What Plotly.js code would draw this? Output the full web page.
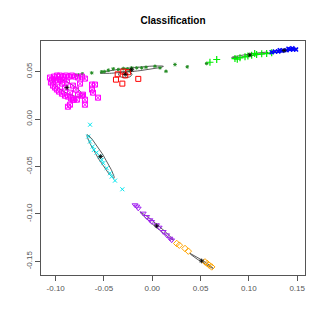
<!DOCTYPE html>
<html>
<head>
<meta charset="utf-8">
<script src="https://cdn.plot.ly/plotly-3.0.1.min.js"></script>
<style>
  html, body { margin: 0; padding: 0; background: white; }
  #chart { width: 327px; height: 327px; }
</style>
</head>
<body>
<div id="chart"></div>
<script>
// classes
const darkGreenX = [-0.0793, -0.0766, -0.0725, -0.0627, -0.0524, -0.0497, -0.0455, -0.0404, -0.0352, -0.0300, -0.0259, -0.0231, -0.0213, -0.0161, -0.0110, -0.0065, 0.0028, 0.0080, 0.0142, 0.0235, 0.0362, 0.0563];
const darkGreenY = [0.0461, 0.0465, 0.0476, 0.0486, 0.0497, 0.0500, 0.0514, 0.0529, 0.0521, 0.0532, 0.0529, 0.0514, 0.0539, 0.0539, 0.0539, 0.0546, 0.0556, 0.0539, 0.0503, 0.0574, 0.0550, 0.0585];

const limeX = [0.0597, 0.0667, 0.0856, 0.0880, 0.0908, 0.0960, 0.0990, 0.1029, 0.1060, 0.1080, 0.1133, 0.1184, 0.1236];
const limeY = [0.0598, 0.0627, 0.0637, 0.0630, 0.0645, 0.0655, 0.0665, 0.0672, 0.0690, 0.0680, 0.0687, 0.0690, 0.0698];

const blueX = [0.1236, 0.1270, 0.1304, 0.1320, 0.1340, 0.1390, 0.1410, 0.1425, 0.1450, 0.1460, 0.1488];
const blueY = [0.0704, 0.0711, 0.0711, 0.0725, 0.0719, 0.0725, 0.0740, 0.0733, 0.0745, 0.0733, 0.0733];

const redX = [-0.0376, -0.0310, -0.0145, -0.0358, -0.0250, -0.0300, -0.0280];
const redY = [0.0415, 0.0373, 0.0423, 0.0471, 0.0493, 0.0500, 0.0460];

const magentaX = [-0.1059, -0.1038, -0.1018, -0.0987, -0.0956, -0.0925, -0.0893, -0.0862, -0.0832, -0.0800, -0.0769, -0.0728, -0.0697,
  -0.1049, -0.1028, -0.1007, -0.0987, -0.0966, -0.0935, -0.0904, -0.0873, -0.0842, -0.0811,
  -0.0976, -0.0935, -0.0904, -0.0852, -0.0790, -0.0748, -0.0997, -0.0956, -0.0915, -0.0883, -0.0821, -0.0769, -0.0728,
  -0.0624, -0.0593, -0.0624, -0.0614, -0.0717, -0.0697, -0.0780, -0.0821, -0.0852, -0.0697, -0.0562, -0.0873];
const magentaY = [0.0437, 0.0415, 0.0447, 0.0458, 0.0458, 0.0447, 0.0458, 0.0447, 0.0458, 0.0447, 0.0437, 0.0447, 0.0426,
  0.0384, 0.0352, 0.0331, 0.0310, 0.0289, 0.0267, 0.0246, 0.0236, 0.0215, 0.0204,
  0.0394, 0.0373, 0.0331, 0.0278, 0.0310, 0.0373, 0.0415, 0.0415, 0.0415, 0.0394, 0.0352, 0.0257, 0.0246,
  0.0363, 0.0363, 0.0310, 0.0278, 0.0257, 0.0204, 0.0204, 0.0204, 0.0151, 0.0151, 0.0225, 0.0130];

const cyanX = [-0.0644, -0.0663, -0.0645, -0.0617, -0.0604, -0.0576, -0.0541, -0.0524, -0.0507, -0.0472, -0.0438, -0.0420, -0.0386, -0.0310];
const cyanY = [-0.0060, -0.0184, -0.0237, -0.0290, -0.0325, -0.0353, -0.0395, -0.0430, -0.0465, -0.0518, -0.0571, -0.0607, -0.0649, -0.0740];

const purpleX = [-0.0179, -0.0160, -0.0145, -0.0093, -0.0058, -0.0024, -0.0006, 0.0045, 0.0072, 0.0114, 0.0149, 0.0183, 0.0201];
const purpleY = [-0.0906, -0.0920, -0.0941, -0.0994, -0.1030, -0.1064, -0.1082, -0.1117, -0.1142, -0.1188, -0.1223, -0.1258, -0.1276];

const orangeX = [0.0253, 0.0280, 0.0339, 0.0373, 0.0546, 0.0569, 0.0590, 0.0615];
const orangeY = [-0.1311, -0.1329, -0.1364, -0.1392, -0.1505, -0.1522, -0.1540, -0.1558];

// ellipses (centre, half axes, angle in degrees)
const ellCx = [-0.0883, -0.0280, -0.0213, 0.1010, 0.1365, -0.0535, 0.0045, 0.0511];
const ellCy = [0.0331, 0.0470, 0.0520, 0.0675, 0.0722, -0.0395, -0.1126, -0.1495];
const ellA = [0.0179, 0.0070, 0.0330, 0.0190, 0.0145, 0.0268, 0.0228, 0.0145];
const ellB = [0.0053, 0.0035, 0.0020, 0.0012, 0.0010, 0.0030, 0.0015, 0.0010];
const ellAng = [-29.5, 0, 6, 8, 8, -58.8, -41, -33];

const xTicks = [-0.10, -0.05, 0.00, 0.05, 0.10, 0.15];
const yTicks = [-0.15, -0.10, -0.05, 0.00, 0.05];
const tickFmt = (v) => v.toFixed(2);

function ellipsePath(cx, cy, a, b, deg) {
  const t = deg * Math.PI / 180;
  const xs = [], ys = [];
  for (let i = 0; i <= 72; i++) {
    const u = 2 * Math.PI * i / 72;
    const ex = a * Math.cos(u), ey = b * Math.sin(u);
    xs.push(cx + ex * Math.cos(t) - ey * Math.sin(t));
    ys.push(cy + ex * Math.sin(t) + ey * Math.cos(t));
  }
  return { xs, ys };
}

function pts(x, y, color, symbol, size, lw) {
  return {
    x: x, y: y, type: "scatter", mode: "markers", hoverinfo: "skip",
    marker: { symbol: symbol, size: size, color: color, line: { color: color, width: lw } },
  };
}

const data = [];
ellCx.forEach((cx, i) => {
  const e = ellipsePath(cx, ellCy[i], ellA[i], ellB[i], ellAng[i]);
  data.push({ x: e.xs, y: e.ys, type: "scatter", mode: "lines", hoverinfo: "skip",
    line: { color: "#333", width: 0.8 } });
});
data.push(pts(darkGreenX, darkGreenY, "#228B22", "asterisk-open", 3, 1));
data.push(pts(limeX, limeY, "#00EE00", "cross-thin-open", 5, 1.2));
data.push(pts(blueX, blueY, "#0000FF", "x-thin-open", 4, 1.5));
data.push(pts(redX, redY, "#FF0000", "square-open", 5, 1));
data.push(pts(magentaX, magentaY, "#FF00FF", "square-x-open", 5, 1));
data.push(pts(cyanX, cyanY, "#00E5EE", "x-thin-open", 4, 1));
data.push(pts(purpleX, purpleY, "#A020F0", "triangle-down-open", 5, 1));
data.push(pts(orangeX, orangeY, "#FFA500", "diamond-open", 5, 1));
data.push(pts(ellCx, ellCy, "#000000", "asterisk-open", 4, 0.8));

const axisBase = {
  showgrid: false, zeroline: false, showline: true, mirror: true,
  linecolor: "#555", linewidth: 1, ticks: "outside", ticklen: 5,
  tickcolor: "#555", tickwidth: 1, tickmode: "array",
  tickfont: { size: 8, color: "#555", family: "Liberation Sans, Arial, sans-serif" },
  fixedrange: true,
};

const layout = {
  width: 327, height: 327,
  margin: { l: 41, r: 22, t: 41, b: 52 },
  paper_bgcolor: "white", plot_bgcolor: "white",
  showlegend: false,
  font: { family: "Liberation Sans, Arial, sans-serif", color: "#000" },
  title: {
    text: "<b>Classification</b>", font: { size: 10, color: "#000" },
    xref: "paper", x: 0.5, xanchor: "center",
    yref: "container", y: 1 - 20.5 / 327, yanchor: "middle",
  },
  xaxis: Object.assign({}, axisBase, {
    range: [-0.1152, 0.1581], tickvals: xTicks, ticktext: xTicks.map(tickFmt),
  }),
  yaxis: Object.assign({}, axisBase, {
    range: [-0.1643, 0.0822], tickvals: yTicks, ticktext: yTicks.map(tickFmt), tickangle: -90,
  }),
};

Plotly.newPlot(document.getElementById("chart"), data, layout, { displayModeBar: false, staticPlot: true });
</script>
</body>
</html>
